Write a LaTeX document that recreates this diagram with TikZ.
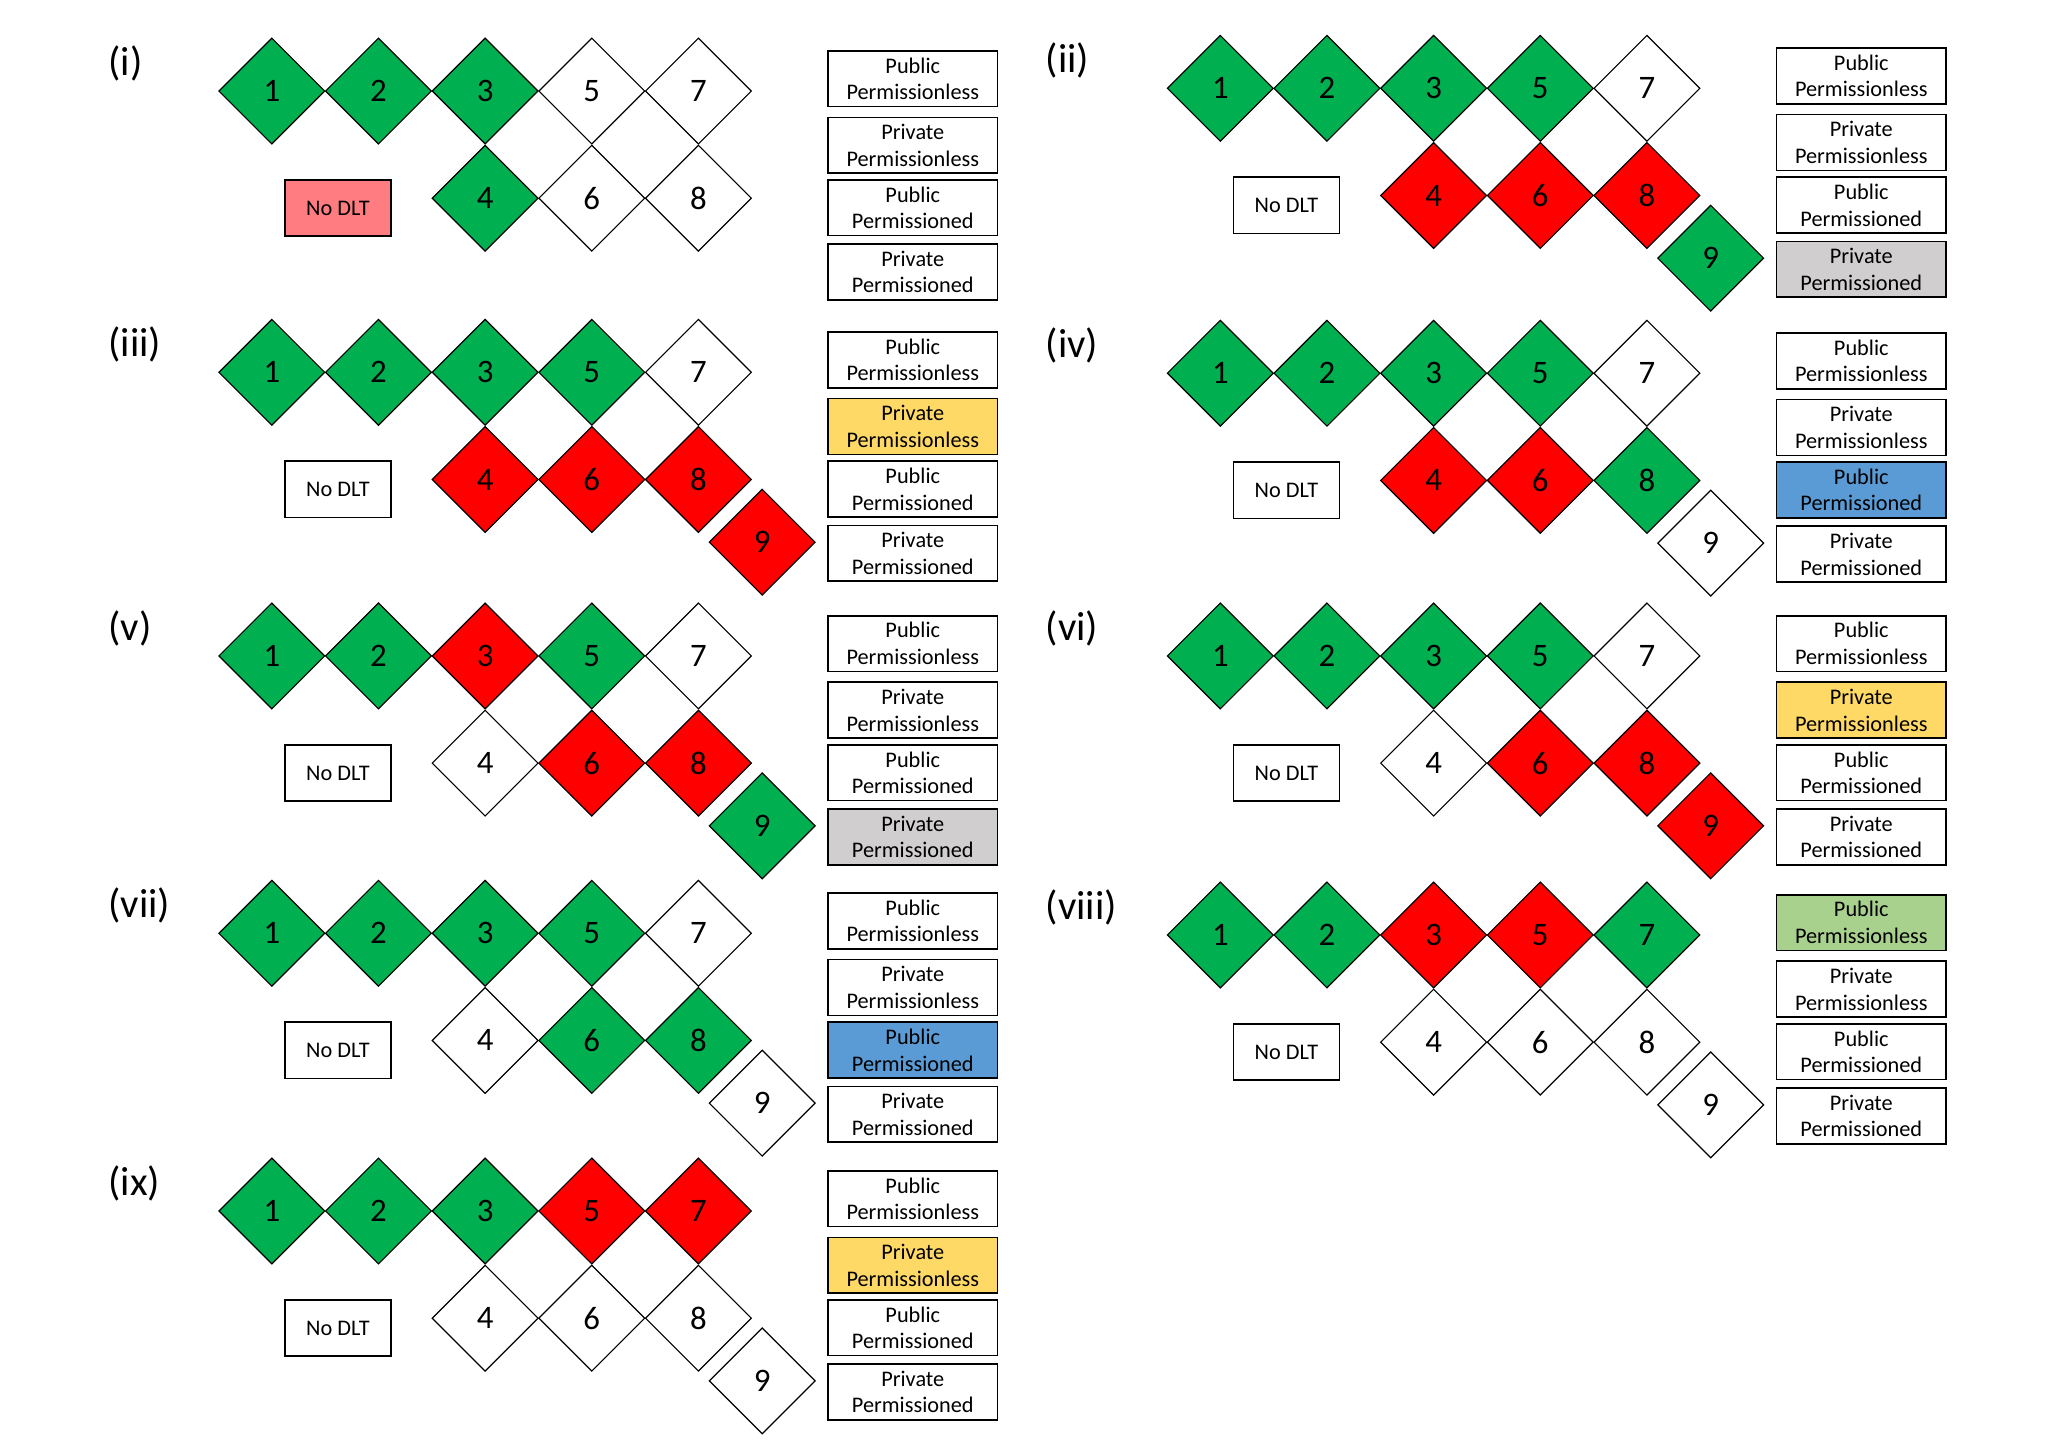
\documentclass[tikz,border=0pt]{standalone}
\usepackage{fontspec}
\setmainfont{Carlito}
\usetikzlibrary{shapes.geometric}

\definecolor{cgreen}{HTML}{00B050}
\definecolor{cred}{HTML}{FF0000}
\definecolor{cgrey}{HTML}{D0CECE}
\definecolor{cyellow}{HTML}{FFD966}
\definecolor{cblue}{HTML}{5B9BD5}
\definecolor{clgreen}{HTML}{A9D18E}
\definecolor{cpink}{HTML}{FF7C80}

\newcommand\digitfont{\fontsize{25}{29}\selectfont}
\newcommand\boxfont{\fontsize{17}{20.3}\selectfont}
\newcommand\labfont{\fontsize{31}{35}\selectfont}

\tikzset{
  dia/.style={diamond, draw=black, line width=0.9pt, fill=#1,
    minimum width=81pt, minimum height=81pt, inner sep=0pt, font=\digitfont},
  legbox/.style={draw=black, line width=1.2pt, fill=#1, minimum width=129pt,
    minimum height=42.5pt, inner sep=0pt, align=center, font=\boxfont},
  legbox/.default=white,
  nodlt/.style={draw=black, line width=1.2pt, fill=#1, minimum width=81pt,
    minimum height=43pt, inner sep=0pt, font=\boxfont},
  nodlt/.default=white,
  lab/.style={anchor=west, inner sep=0pt, font=\labfont},
}

% panel caption and the "No DLT" box: prefix, caption, caption x, box fill
\newcommand\panelhead[4]{%
  \node[lab] (#1lab) at (#3,-21) {#2};
  \node[nodlt=#4] (#1ndlt) at (257.6,89.2) {No DLT};}
% upper row of diamonds 1,2,3,5,7
\newcommand\toprow[6]{%
  \foreach \n/\c/\f in {1/0/#2,2/1/#3,3/2/#4,5/3/#5,7/4/#6}
    \node[dia=\f] (#1\n) at ({207.2+81.3*\c},0) {\n};}
% lower row of diamonds 4,6,8
\newcommand\botrow[4]{%
  \foreach \n/\c/\f in {4/2/#2,6/3/#3,8/4/#4}
    \node[dia=\f] (#1\n) at ({207.2+81.3*\c},81.7) {\n};}
% the offset diamond 9
\newcommand\nine[2]{\node[dia=#2] (#1n9) at (581,129.5) {9};}
% the four ledger types
\newcommand\legendset[5]{%
  \node[legbox=#2] (#1L1) at (695.8,-9.4) {Public\\Permissionless};
  \node[legbox=#3] (#1L2) at (695.8,41.3) {Private\\Permissionless};
  \node[legbox=#4] (#1L3) at (695.8,89) {Public\\Permissioned};
  \node[legbox=#5] (#1L4) at (695.8,137.9) {Private\\Permissioned};}

\begin{document}
\begin{tikzpicture}[x=1pt,y=-1pt]
\useasboundingbox (0,0) rectangle (1568,1103);
\fill[white] (0,0) rectangle (1568,1103);

% (i)
\begin{scope}[shift={(0,69.4)}]
  \panelhead{pa}{(i)}{82.5}{cpink}
  \toprow{pa}{cgreen}{cgreen}{cgreen}{white}{white}
  \botrow{pa}{cgreen}{white}{white}
  \legendset{pa}{white}{white}{white}{white}
\end{scope}

% (ii)
\begin{scope}[shift={(723,67.3)}]
  \panelhead{pb}{(ii)}{74}{white}
  \toprow{pb}{cgreen}{cgreen}{cgreen}{cgreen}{white}
  \botrow{pb}{cred}{cred}{cred}
  \nine{pb}{cgreen}
  \legendset{pb}{white}{white}{white}{cgrey}
\end{scope}

% (iii)
\begin{scope}[shift={(0,283.8)}]
  \panelhead{pc}{(iii)}{82.5}{white}
  \toprow{pc}{cgreen}{cgreen}{cgreen}{cgreen}{white}
  \botrow{pc}{cred}{cred}{cred}
  \nine{pc}{cred}
  \legendset{pc}{white}{cyellow}{white}{white}
\end{scope}

% (iv)
\begin{scope}[shift={(723,284.5)}]
  \panelhead{pd}{(iv)}{74}{white}
  \toprow{pd}{cgreen}{cgreen}{cgreen}{cgreen}{white}
  \botrow{pd}{cred}{cred}{cgreen}
  \nine{pd}{white}
  \legendset{pd}{white}{white}{cblue}{white}
\end{scope}

% (v)
\begin{scope}[shift={(0,500)}]
  \panelhead{pe}{(v)}{82.5}{white}
  \toprow{pe}{cgreen}{cgreen}{cred}{cgreen}{white}
  \botrow{pe}{white}{cred}{cred}
  \nine{pe}{cgreen}
  \legendset{pe}{white}{white}{white}{cgrey}
\end{scope}

% (vi)
\begin{scope}[shift={(723,500)}]
  \panelhead{pf}{(vi)}{74}{white}
  \toprow{pf}{cgreen}{cgreen}{cgreen}{cgreen}{white}
  \botrow{pf}{white}{cred}{cred}
  \nine{pf}{cred}
  \legendset{pf}{white}{cyellow}{white}{white}
\end{scope}

% (vii)
\begin{scope}[shift={(0,711.4)}]
  \panelhead{pg}{(vii)}{82.5}{white}
  \toprow{pg}{cgreen}{cgreen}{cgreen}{cgreen}{white}
  \botrow{pg}{white}{cgreen}{cgreen}
  \nine{pg}{white}
  \legendset{pg}{white}{white}{cblue}{white}
\end{scope}

% (viii)
\begin{scope}[shift={(723,712.7)}]
  \panelhead{ph}{(viii)}{74}{white}
  \toprow{ph}{cgreen}{cgreen}{cred}{cred}{cgreen}
  \botrow{ph}{white}{white}{white}
  \nine{ph}{white}
  \legendset{ph}{clgreen}{white}{white}{white}
\end{scope}

% (ix)
\begin{scope}[shift={(0,923.1)}]
  \panelhead{pi}{(ix)}{82.5}{white}
  \toprow{pi}{cgreen}{cgreen}{cgreen}{cred}{cred}
  \botrow{pi}{white}{white}{white}
  \nine{pi}{white}
  \legendset{pi}{white}{cyellow}{white}{white}
\end{scope}
\end{tikzpicture}
\end{document}
